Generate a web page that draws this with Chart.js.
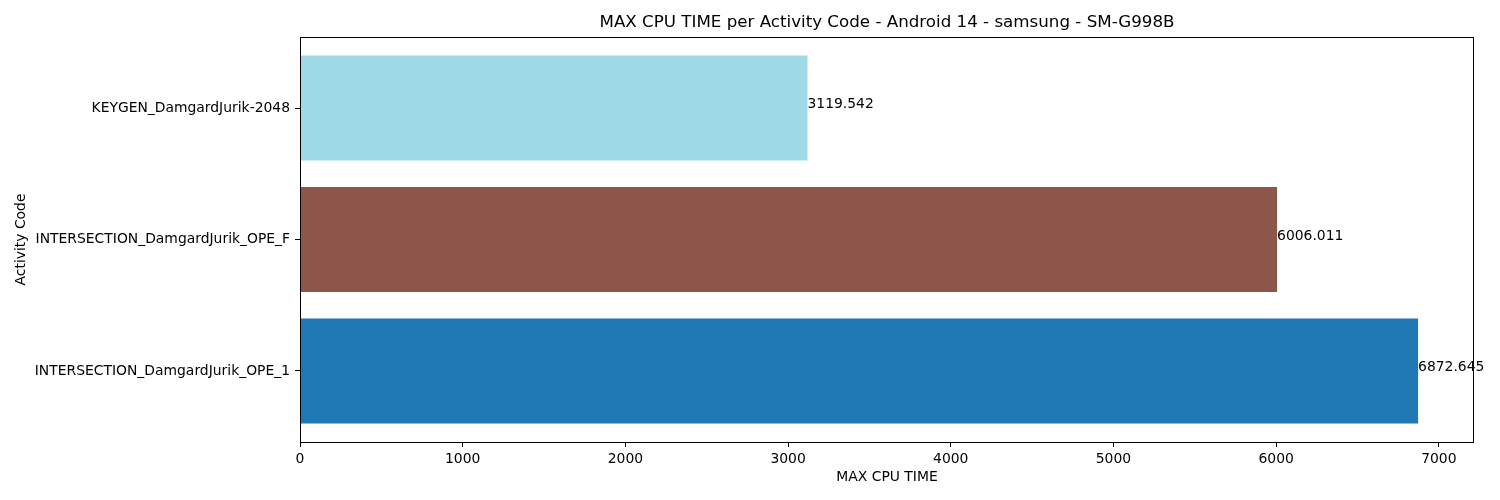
<!DOCTYPE html>
<html>
<head>
<meta charset="utf-8">
<script src="https://cdn.jsdelivr.net/npm/chart.js@4"></script>
<style>html,body{margin:0;padding:0;background:#fff;}canvas{display:block;}</style>
</head>
<body>
<canvas id="c" width="1500" height="500"></canvas>
<script>
const categories = ['INTERSECTION_DamgardJurik_OPE_1', 'INTERSECTION_DamgardJurik_OPE_F', 'KEYGEN_DamgardJurik-2048'];
const values = [6872.645, 6006.011, 3119.542];
const valueLabels = ['6872.645', '6006.011', '3119.542'];
const colors = ['#1f77b4', '#8c564b', '#9edae5'];
const xTicks = [0, 1000, 2000, 3000, 4000, 5000, 6000, 7000];
const titleText = 'MAX CPU TIME per Activity Code - Android 14 - samsung - SM-G998B';
const xTitle = 'MAX CPU TIME';
const yTitle = 'Activity Code';

const FONT = 'DejaVu Sans';
const xMax = Math.max(...values) * 1.05;
const yMin = -0.4 - 0.14, yMax = 2.4 + 0.14;

const decor = {
  id: 'decor',
  afterDraw(chart) {
    const ctx = chart.ctx, a = chart.chartArea;
    ctx.save();
    ctx.strokeStyle = '#000';
    ctx.lineWidth = 1;
    ctx.strokeRect(Math.round(a.left) + 0.5, Math.round(a.top) + 0.5, Math.round(a.right - a.left) - 1, Math.round(a.bottom - a.top));
    ctx.fillStyle = '#000';
    ctx.font = '13.9px "' + FONT + '"';
    ctx.textAlign = 'left';
    ctx.textBaseline = 'alphabetic';
    const meta = chart.getDatasetMeta(0);
    meta.data.forEach((bar, i) => {
      ctx.fillText(valueLabels[i], bar.x, bar.y);
    });
    const cx = (a.left + a.right) / 2;
    ctx.font = '16.7px "' + FONT + '"';
    ctx.textAlign = 'center';
    ctx.textBaseline = 'middle';
    ctx.fillText(titleText, cx, 23);
    ctx.font = '13.9px "' + FONT + '"';
    ctx.fillText(xTitle, cx, 477);
    ctx.translate(21, (a.top + a.bottom) / 2);
    ctx.rotate(-Math.PI / 2);
    ctx.fillText(yTitle, 0, 0);
    ctx.restore();
  }
};

new Chart(document.getElementById('c'), {
  type: 'bar',
  data: {
    datasets: [{
      data: values.map((v, i) => ({ x: v, y: i })),
      backgroundColor: colors,
      borderWidth: 0,
      barPercentage: 0.8,
      categoryPercentage: 1.0
    }]
  },
  options: {
    indexAxis: 'y',
    responsive: false,
    devicePixelRatio: 1,
    animation: false,
    layout: { padding: { top: 37, right: 26, left: 0, bottom: 0 } },
    plugins: { legend: { display: false }, tooltip: { enabled: false }, title: { display: false } },
    scales: {
      x: {
        type: 'linear',
        position: 'bottom',
        min: 0,
        max: xMax,
        afterBuildTicks: s => { s.ticks = xTicks.map(v => ({ value: v })); },
        afterFit: s => { s.height = 58; },
        grid: { drawOnChartArea: false, tickLength: 5, color: '#000', tickWidth: 1 },
        border: { display: false },
        ticks: { color: '#000', padding: 4, maxRotation: 0, autoSkip: false, font: { family: FONT, size: 13.9 },
          callback: v => String(v) }
      },
      y: {
        type: 'linear',
        position: 'left',
        offset: false,
        min: yMin,
        max: yMax,
        afterBuildTicks: s => { s.ticks = categories.map((c, i) => ({ value: i })); },
        afterFit: s => { s.width = 300; },
        grid: { offset: false, drawOnChartArea: false, tickLength: 5, color: '#000', tickWidth: 1 },
        border: { display: false },
        ticks: { color: '#000', padding: 5, autoSkip: false, font: { family: FONT, size: 13.9 },
          callback: v => categories[v] !== undefined ? categories[v] : '' }
      }
    }
  },
  plugins: [decor]
});
</script>
</body>
</html>
